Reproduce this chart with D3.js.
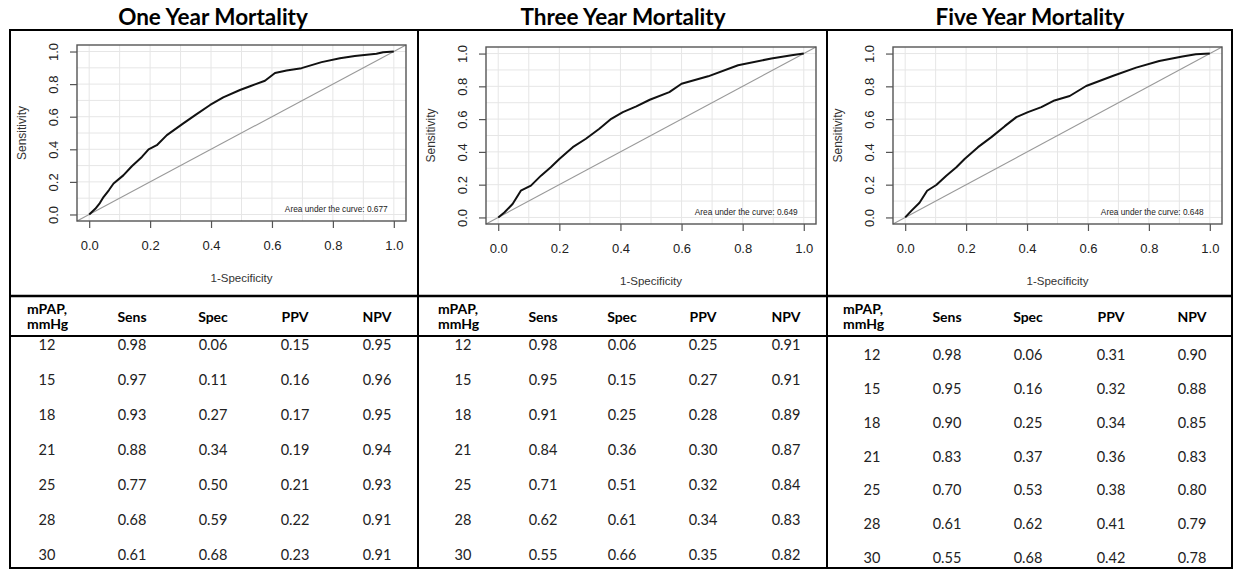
<!DOCTYPE html>
<html>
<head>
<meta charset="utf-8">
<script src="https://cdn.jsdelivr.net/npm/d3@7"></script>
<style>
  html, body { margin: 0; padding: 0; background: #fff; }
  svg { display: block; }
</style>
</head>
<body>
<svg id="chart" width="1234" height="569"></svg>
<script>
// ---------------- DATA ----------------
const titles = ["One Year Mortality", "Three Year Mortality", "Five Year Mortality"];
const aucValues = ["0.677", "0.649", "0.648"];
const axisTicks = [0, 0.2, 0.4, 0.6, 0.8, 1.0];
const gridTicks = [0, 0.1, 0.2, 0.3, 0.4, 0.5, 0.6, 0.7, 0.8, 0.9, 1.0];

// ROC curves: [1-specificity, sensitivity]
const rocOneYear = [[0,0],[0.02,0.035],[0.035,0.07],[0.047,0.107],[0.065,0.15],[0.08,0.19],[0.112,0.24],[0.14,0.296],[0.173,0.353],[0.195,0.40],[0.222,0.425],[0.255,0.487],[0.309,0.559],[0.348,0.61],[0.397,0.672],[0.44,0.719],[0.495,0.764],[0.528,0.787],[0.577,0.821],[0.61,0.868],[0.648,0.883],[0.697,0.898],[0.763,0.935],[0.823,0.959],[0.872,0.973],[0.943,0.986],[0.965,0.996],[1,1]];
const rocThreeYear = [[0,0],[0.02,0.03],[0.047,0.082],[0.074,0.163],[0.107,0.194],[0.14,0.255],[0.172,0.306],[0.2,0.357],[0.244,0.429],[0.287,0.48],[0.331,0.541],[0.37,0.602],[0.408,0.643],[0.452,0.678],[0.496,0.718],[0.56,0.765],[0.6,0.816],[0.687,0.861],[0.785,0.929],[0.894,0.97],[0.96,0.99],[1,1]];
const rocFiveYear = [[0,0],[0.02,0.04],[0.047,0.09],[0.072,0.163],[0.102,0.198],[0.135,0.255],[0.168,0.306],[0.195,0.357],[0.239,0.429],[0.283,0.49],[0.327,0.557],[0.365,0.612],[0.403,0.643],[0.447,0.673],[0.49,0.714],[0.54,0.741],[0.594,0.802],[0.681,0.863],[0.758,0.914],[0.834,0.955],[0.91,0.982],[0.954,0.996],[1,1]];

const tableHeaders = ["Sens", "Spec", "PPV", "NPV"];
const mpap = ["12", "15", "18", "21", "25", "28", "30"];

const sensOneYear  = ["0.98","0.97","0.93","0.88","0.77","0.68","0.61"];
const specOneYear  = ["0.06","0.11","0.27","0.34","0.50","0.59","0.68"];
const ppvOneYear   = ["0.15","0.16","0.17","0.19","0.21","0.22","0.23"];
const npvOneYear   = ["0.95","0.96","0.95","0.94","0.93","0.91","0.91"];

const sensThreeYear = ["0.98","0.95","0.91","0.84","0.71","0.62","0.55"];
const specThreeYear = ["0.06","0.15","0.25","0.36","0.51","0.61","0.66"];
const ppvThreeYear  = ["0.25","0.27","0.28","0.30","0.32","0.34","0.35"];
const npvThreeYear  = ["0.91","0.91","0.89","0.87","0.84","0.83","0.82"];

const sensFiveYear = ["0.98","0.95","0.90","0.83","0.70","0.61","0.55"];
const specFiveYear = ["0.06","0.16","0.25","0.37","0.53","0.62","0.68"];
const ppvFiveYear  = ["0.31","0.32","0.34","0.36","0.38","0.41","0.42"];
const npvFiveYear  = ["0.90","0.88","0.85","0.83","0.80","0.79","0.78"];

// ---------------- LAYOUT ----------------
const panels = [
  { roc: rocOneYear, cols: [sensOneYear, specOneYear, ppvOneYear, npvOneYear],
    box: {l: 77, t: 45, r: 406, b: 221}, titleX: 213,
    colX: [47, 132, 213, 295, 377], mpapLabelX: 27, rows: [345, 554.5] },
  { roc: rocThreeYear, cols: [sensThreeYear, specThreeYear, ppvThreeYear, npvThreeYear],
    box: {l: 486, t: 47, r: 816, b: 224}, titleX: 623,
    colX: [463, 543, 622, 703, 786], mpapLabelX: 438, rows: [345, 554.5] },
  { roc: rocFiveYear, cols: [sensFiveYear, specFiveYear, ppvFiveYear, npvFiveYear],
    box: {l: 893, t: 47, r: 1222, b: 224}, titleX: 1030,
    colX: [872, 947, 1028, 1111, 1192], mpapLabelX: 843, rows: [355, 558] }
];

const svg = d3.select("#chart");
const plotFont = "'Liberation Sans', Arial, Helvetica, sans-serif";
const tableFont = "Lato, 'Open Sans', sans-serif";

panels.forEach((p, i) => {
  const g = svg.append("g");
  const B = p.box;
  const x = d3.scaleLinear().domain([-0.04, 1.04]).range([B.l, B.r]);
  const y = d3.scaleLinear().domain([-0.04, 1.04]).range([B.b, B.t]);

  // title
  g.append("text").attr("x", p.titleX).attr("y", 25)
    .attr("text-anchor", "middle").attr("font-family", tableFont)
    .attr("font-weight", 700).attr("font-size", 22.5).attr("fill", "#000")
    .text(titles[i]);

  // grid
  g.append("g").selectAll("line").data(gridTicks).join("line")
    .attr("x1", d => x(d)).attr("x2", d => x(d)).attr("y1", B.t).attr("y2", B.b)
    .attr("stroke", "#e6e6e6").attr("stroke-width", 1);
  g.append("g").selectAll("line").data(gridTicks).join("line")
    .attr("y1", d => y(d)).attr("y2", d => y(d)).attr("x1", B.l).attr("x2", B.r)
    .attr("stroke", "#e6e6e6").attr("stroke-width", 1);

  // diagonal
  g.append("line")
    .attr("x1", x(-0.04)).attr("y1", y(-0.04)).attr("x2", x(1.04)).attr("y2", y(1.04))
    .attr("stroke", "#999").attr("stroke-width", 1.1);

  // curve
  g.append("path").datum(p.roc)
    .attr("d", d3.line().x(d => x(d[0])).y(d => y(d[1])))
    .attr("fill", "none").attr("stroke", "#111").attr("stroke-width", 2)
    .attr("stroke-linejoin", "round");

  // box
  g.append("rect").attr("x", B.l).attr("y", B.t)
    .attr("width", B.r - B.l).attr("height", B.b - B.t)
    .attr("fill", "none").attr("stroke", "#555").attr("stroke-width", 1.4);

  // x axis
  const xa = g.append("g").attr("transform", `translate(0,${B.b})`)
    .call(d3.axisBottom(x).tickValues(axisTicks).tickSize(7).tickPadding(13)
      .tickFormat(d3.format(".1f")));
  xa.select(".domain").remove();
  xa.selectAll(".tick line").attr("stroke", "#555").attr("stroke-width", 1.2);
  xa.selectAll(".tick text").attr("font-family", plotFont).attr("font-size", 13).attr("fill", "#222");

  // y axis
  const ya = g.append("g").attr("transform", `translate(${B.l},0)`)
    .call(d3.axisLeft(y).tickValues(axisTicks).tickSize(7)
      .tickFormat(d3.format(".1f")));
  ya.select(".domain").remove();
  ya.selectAll(".tick line").attr("stroke", "#555").attr("stroke-width", 1.2);
  ya.selectAll(".tick text")
    .attr("transform", "rotate(-90)").attr("text-anchor", "middle")
    .attr("x", 0).attr("y", -24).attr("dy", "0.35em")
    .attr("font-family", plotFont).attr("font-size", 13).attr("fill", "#222");

  // axis titles
  g.append("text").attr("transform", `translate(${B.l - 55},${(B.t + B.b) / 2}) rotate(-90)`)
    .attr("text-anchor", "middle").attr("dy", "0.35em")
    .attr("font-family", plotFont).attr("font-size", 12).attr("fill", "#333")
    .text("Sensitivity");
  g.append("text").attr("x", (B.l + B.r) / 2).attr("y", B.b + 57)
    .attr("text-anchor", "middle").attr("dy", "0.35em")
    .attr("font-family", plotFont).attr("font-size", 11.5).attr("fill", "#333")
    .text("1-Specificity");

  // AUC label
  g.append("text").attr("x", x(0.98)).attr("y", y(0.015))
    .attr("text-anchor", "end")
    .attr("font-family", plotFont).attr("font-size", 8.3).attr("fill", "#222")
    .text("Area under the curve: " + aucValues[i]);

  // table header
  g.append("text").attr("x", p.mpapLabelX).attr("y", 314)
    .attr("font-family", tableFont).attr("font-weight", 700).attr("font-size", 14)
    .text("mPAP,");
  g.append("text").attr("x", p.mpapLabelX).attr("y", 329)
    .attr("font-family", tableFont).attr("font-weight", 700).attr("font-size", 14)
    .text("mmHg");
  g.append("g").selectAll("text").data(tableHeaders).join("text")
    .attr("x", (d, j) => p.colX[j + 1]).attr("y", 322)
    .attr("text-anchor", "middle")
    .attr("font-family", tableFont).attr("font-weight", 700).attr("font-size", 14)
    .text(d => d);

  // table rows
  const rowY = d3.scalePoint().domain(mpap).range(p.rows);
  const columns = [mpap].concat(p.cols);
  columns.forEach((col, c) => {
    g.append("g").selectAll("text").data(col).join("text")
      .attr("x", p.colX[c]).attr("y", (d, r) => rowY(mpap[r]))
      .attr("dy", "0.35em").attr("text-anchor", "middle")
      .attr("font-family", tableFont).attr("font-size", 14.5).attr("fill", "#222")
      .text(d => d);
  });
});

// frame lines
const frame = svg.append("g").attr("stroke", "#000").attr("fill", "none");
frame.append("rect").attr("x", 10).attr("y", 30).attr("width", 1222).attr("height", 538).attr("stroke-width", 2);
[418, 827].forEach(v => frame.append("line").attr("x1", v).attr("x2", v).attr("y1", 30).attr("y2", 568).attr("stroke-width", 2));
frame.append("line").attr("x1", 10).attr("x2", 1232).attr("y1", 296).attr("y2", 296).attr("stroke-width", 2.5);
frame.append("line").attr("x1", 10).attr("x2", 1232).attr("y1", 336).attr("y2", 336).attr("stroke-width", 2);
</script>
</body>
</html>
